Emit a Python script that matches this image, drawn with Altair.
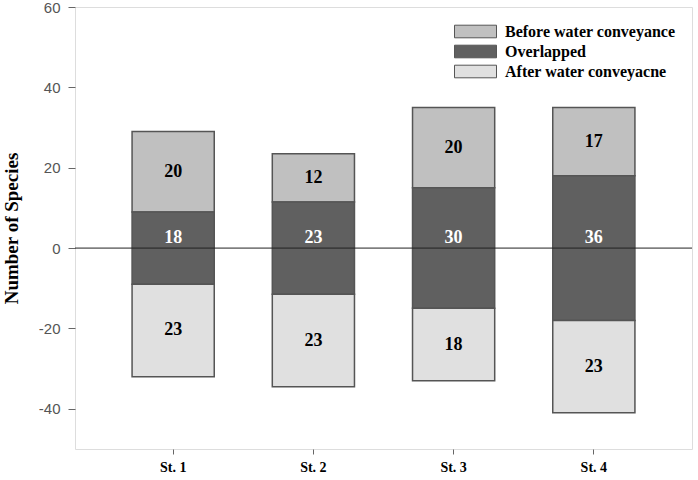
import altair as alt
import pandas as pd

stations = ["St. 1", "St. 2", "St. 3", "St. 4"]
before = [20, 12, 20, 17]
overlapped = [18, 23, 30, 36]
after = [23, 23, 18, 23]
categories = ["Before water conveyance", "Overlapped", "After water conveyacne"]
colors = ["#c0c0c0", "#606060", "#e0e0e0"]
y_ticks = [-40, -20, 0, 20, 40, 60]

rows = []
for s, b, o, a in zip(stations, before, overlapped, after):
    half = o / 2
    rows.append(dict(station=s, cat=categories[0], y=half, y2=half + b, val=b, ly=half + b / 2))
    rows.append(dict(station=s, cat=categories[1], y=-half, y2=half, val=o, ly=2.5))
    rows.append(dict(station=s, cat=categories[2], y=-half - a, y2=-half, val=a, ly=-half - a / 2))
df = pd.DataFrame(rows)

serif = "Liberation Serif"
sans = "Liberation Sans"

x_enc = alt.X("station:N", sort=stations,
              scale=alt.Scale(paddingInner=0.414, paddingOuter=0.407),
              axis=alt.Axis(title=None, labelAngle=0, labelFont=serif, labelFontWeight="bold",
                            labelFontSize=14, labelColor="#000", tickSize=5, tickColor="#666",
                            domain=False, labelPadding=6))
y_scale = alt.Scale(domain=[-50, 60], nice=False, zero=False)

bars = alt.Chart(df).mark_bar(stroke="#555", strokeWidth=1.5).encode(
    x=x_enc,
    y=alt.Y("y:Q", scale=y_scale,
            axis=alt.Axis(values=y_ticks, title="Number of Species", titleFont=serif,
                          titleFontWeight="bold", titleFontSize=19, titleColor="#000",
                          labelFont=sans, labelFontSize=15, labelColor="#555",
                          labelExpr="datum.value + ''",
                          tickSize=7, tickColor="#666", domain=False, grid=False,
                          labelPadding=8, titlePadding=17)),
    y2="y2:Q",
    color=alt.Color("cat:N", sort=categories,
                    scale=alt.Scale(domain=categories, range=colors),
                    legend=alt.Legend(title=None, orient="none", legendX=389.5, legendY=13.5,
                                      symbolType="M-2,-0.6H2V0.6H-2Z", symbolSize=441,
                                      symbolStrokeColor="#555", symbolStrokeWidth=1,
                                      labelFont=serif, labelFontWeight="bold", labelFontSize=16,
                                      labelColor="#000", labelOffset=18.5, rowPadding=0,
                                      labelLimit=400, padding=0)),
)

text = alt.Chart(df).mark_text(font=serif, fontWeight="bold", fontSize=18, baseline="middle").encode(
    x=alt.X("station:N", sort=stations),
    y=alt.Y("ly:Q", scale=y_scale),
    text="val:Q",
    color=alt.condition(alt.datum.cat == "Overlapped", alt.value("#ffffff"), alt.value("#000000")),
)

zero = alt.Chart(pd.DataFrame({"z": [0]})).mark_rule(color="#222", strokeWidth=1).encode(
    y=alt.Y("z:Q", scale=y_scale)
)

chart = (bars + zero + text).properties(
    width=617, height=442,
    autosize=alt.AutoSizeParams(type="none"),
    padding={"left": 75, "top": 7, "right": 6, "bottom": 31},
).configure_view(stroke="#777", strokeWidth=1.5).configure(background="white")

chart.save("out.html", embed_options={"renderer": "svg", "actions": False})
